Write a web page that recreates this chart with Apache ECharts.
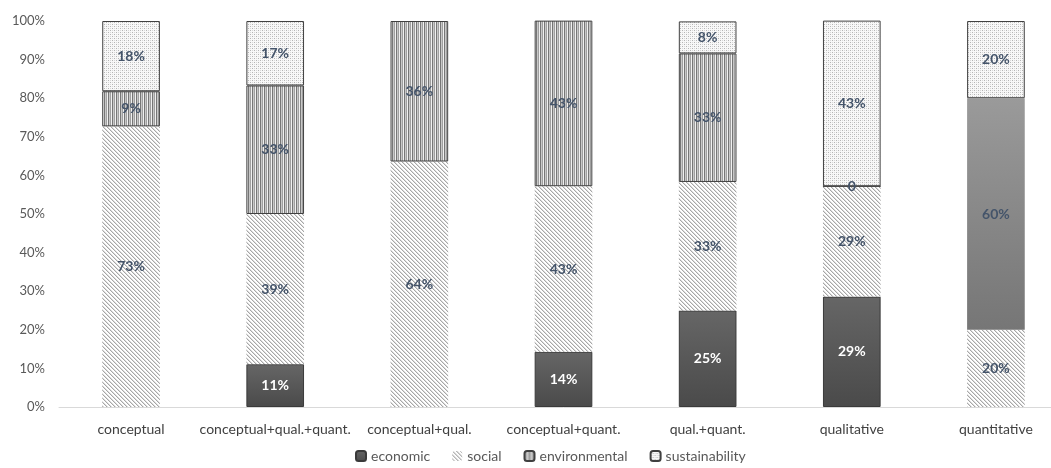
<!DOCTYPE html>
<html><head><meta charset="utf-8">
<script src="https://cdn.jsdelivr.net/npm/echarts@6/dist/echarts.min.js"></script>
<style>html,body{margin:0;padding:0;background:#fff;overflow:hidden}#c{width:1068px;height:468px}</style>
</head><body><div id="c"></div>
<script>
const categories = ['conceptual','conceptual+qual.+quant.','conceptual+qual.','conceptual+quant.','qual.+quant.','qualitative','quantitative'];
const seriesNames = ['economic','social','environmental','sustainability'];
const economic = [null, 11.1, null, 14.3, 25.0, 28.6, null];
const social = [72.7, 38.9, 63.6, 42.9, 33.3, 28.6, 20.0];
const environmental = [9.1, 33.3, 36.4, 42.9, 33.3, 0, 60.0];
const sustainability = [18.2, 16.7, null, null, 8.3, 42.9, 20.0];
const yTicks = [0,10,20,30,40,50,60,70,80,90,100];

function pat(w,h,draw){const c=document.createElement('canvas');c.width=w;c.height=h;const g=c.getContext('2d');draw(g);return {image:c,repeat:'repeat'};}
const socialPat = pat(4,4,g=>{g.fillStyle='#ffffff';g.fillRect(0,0,4,4);g.fillStyle='#a6a6a6';for(let i=0;i<4;i++){g.fillRect(i,i,1,1);}g.fillStyle='#dddddd';for(let i=0;i<4;i++){g.fillRect((i+1)%4,i,1,1);}});
const envPat = pat(4,1,g=>{g.fillStyle='#767676';g.fillRect(0,0,1,1);g.fillStyle='#c8c8c8';g.fillRect(1,0,1,1);g.fillStyle='#a0a0a0';g.fillRect(2,0,1,1);g.fillStyle='#f0f0f0';g.fillRect(3,0,1,1);});
const susPat = pat(4,4,g=>{g.fillStyle='#f8f8f8';g.fillRect(0,0,4,4);g.fillStyle='#b4b4b4';g.fillRect(0,0,1,1);g.fillRect(2,2,1,1);g.fillStyle='#d8d8d8';g.fillRect(2,0,1,1);g.fillRect(0,2,1,1);});
const econFill = {type:'linear',x:0,y:0,x2:0,y2:1,colorStops:[{offset:0,color:'#666666'},{offset:1,color:'#4a4a4a'}]};
const greyFill = {type:'linear',x:0,y:0,x2:0,y2:1,colorStops:[{offset:0,color:'#9a9a9a'},{offset:1,color:'#767676'}]};

const FONT = 'Lato';
const lbl = (color)=>({show:true,position:'inside',color:color,fontWeight:'bold',fontSize:14,fontFamily:FONT,
  formatter:p=>p.value===0?'0':Math.round(p.value)+'%'});

const envData = environmental.map((v,i)=> (categories[i]==='quantitative') ? {value:v,itemStyle:{color:greyFill,borderWidth:0}} : v);

const chart = echarts.init(document.getElementById('c'));
chart.setOption({
  animation:false,
  textStyle:{fontFamily:FONT},
  grid:{left:59,top:21,right:0,height:386,containLabel:false},
  legend:{bottom:0,left:350,itemWidth:10,itemHeight:10,itemGap:22,
    textStyle:{color:'#595959',fontSize:14,fontFamily:FONT},data:seriesNames},
  xAxis:{type:'category',data:categories,
    axisLine:{lineStyle:{color:'#d9d9d9'}},axisTick:{show:false},
    axisLabel:{color:'#404040',fontSize:14,margin:15,fontFamily:FONT,interval:0}},
  yAxis:{type:'value',min:0,max:100,interval:10,
    axisLine:{show:false},axisTick:{show:false},splitLine:{show:false},
    axisLabel:{color:'#595959',fontSize:13,margin:14,fontFamily:FONT,formatter:v=>yTicks.includes(v)?v+'%':''}},
  series:[
    {name:'economic',type:'bar',stack:'a',barWidth:'40%',data:economic,
      itemStyle:{color:econFill,borderColor:'#3a3a3a',borderWidth:1},label:lbl('#ffffff')},
    {name:'social',type:'bar',stack:'a',data:social,
      itemStyle:{color:socialPat,borderWidth:0},label:lbl('#44546a')},
    {name:'environmental',type:'bar',stack:'a',data:envData,
      itemStyle:{color:envPat,borderColor:'#404040',borderWidth:1},label:lbl('#44546a')},
    {name:'sustainability',type:'bar',stack:'a',data:sustainability,
      itemStyle:{color:susPat,borderColor:'#404040',borderWidth:1},label:lbl('#44546a')}
  ]
});
</script></body></html>
